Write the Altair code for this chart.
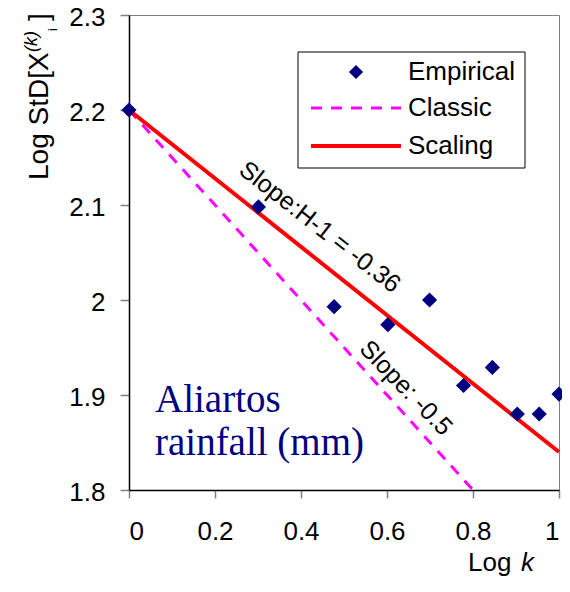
import altair as alt
import pandas as pd

# values
log_k = [0.0, 0.301, 0.477, 0.602, 0.699, 0.778, 0.845, 0.903, 0.954, 1.0]
log_std = [2.200, 2.098, 1.993, 1.974, 2.000, 1.910, 1.929, 1.880, 1.880, 1.901]

classic_x = [0.0, 0.8]
classic_y = [2.2, 1.8]
scaling_x = [0.0, 1.0]
scaling_y = [2.2, 1.84]

x_ticks = [0, 0.2, 0.4, 0.6, 0.8, 1]
y_ticks = [1.8, 1.9, 2.0, 2.1, 2.2, 2.3]

legend_labels = ["Empirical", "Classic", "Scaling"]
slope_labels = ["Slope:H-1 = -0.36", "Slope: -0.5"]
station_lines = ["Aliartos", "rainfall (mm)"]

NAVY = "#000080"
MAGENTA = "#FF00FF"
RED = "#FF0000"
SANS = "Liberation Sans"

points = pd.DataFrame({"log_k": log_k, "log_std": log_std})
classic = pd.DataFrame({"log_k": classic_x, "log_std": classic_y})
scaling = pd.DataFrame({"log_k": scaling_x, "log_std": scaling_y})
one = pd.DataFrame({"a": [0]})

x_enc = alt.X(
    "log_k:Q",
    scale=alt.Scale(domain=[0, 1], nice=False),
    axis=alt.Axis(values=x_ticks, format="~g", title=None, grid=False,
                  tickSize=8, labelPadding=20),
)
y_enc = alt.Y(
    "log_std:Q",
    scale=alt.Scale(domain=[1.8, 2.3], nice=False, zero=False),
    axis=alt.Axis(values=y_ticks, format="~g", title=None, grid=False,
                  tickSize=9, labelPadding=15, labelOffset=2),
)

classic_line = alt.Chart(classic).mark_line(
    color=MAGENTA, strokeWidth=3, strokeDash=[11, 9]
).encode(x_enc, y_enc)

scaling_line = alt.Chart(scaling).mark_line(
    color=RED, strokeWidth=4
).encode(x="log_k:Q", y="log_std:Q")

empirical = alt.Chart(points).mark_point(
    shape="diamond", filled=True, color=NAVY, size=230, opacity=1
).encode(x="log_k:Q", y="log_std:Q")


def label(text, x, y, size=26, angle=0, align="left", baseline="alphabetic",
          font=SANS, color="black", style="normal"):
    return alt.Chart(one).mark_text(
        text=text, fontSize=size, angle=angle, align=align, baseline=baseline,
        font=font, color=color, fontStyle=style,
    ).encode(x=alt.value(x), y=alt.value(y))


# slope annotations along the lines
slope1 = label(slope_labels[0], 191, 212, size=25, angle=38,
               align="center", baseline="middle")
slope2 = label(slope_labels[1], 277, 373, size=25, angle=46,
               align="center", baseline="middle")

# station name
station1 = label(station_lines[0], 26, 397, size=39,
                 font="Liberation Serif", color=NAVY)
station2 = label(station_lines[1], 26, 440, size=39,
                 font="Liberation Serif", color=NAVY)

# hand-made legend box
legend_box = alt.Chart(one).mark_rect(
    fill="white", stroke="black", strokeWidth=1
).encode(x=alt.value(169), x2=alt.value(396), y=alt.value(37), y2=alt.value(153))
legend_point = alt.Chart(one).mark_point(
    shape="diamond", filled=True, color=NAVY, size=200, opacity=1
).encode(x=alt.value(227), y=alt.value(57))
legend_dash = alt.Chart(one).mark_rule(
    color=MAGENTA, strokeWidth=3, strokeDash=[11, 9]
).encode(x=alt.value(182), x2=alt.value(272), y=alt.value(93))
legend_solid = alt.Chart(one).mark_rule(
    color=RED, strokeWidth=4
).encode(x=alt.value(182), x2=alt.value(272), y=alt.value(131))
legend_text = [
    label(t, 279, yy, baseline="middle")
    for t, yy in zip(legend_labels, [57, 93, 131])
]

# axis titles
x_title = label("Log", 339, 556) + label("k", 392, 556, style="italic")
y_title = (
    label("Log StD[X", -81, 165, size=28, angle=270)
    + label("(k)", -92, 37, size=18, angle=270, style="italic")
    + label("i", -72, 16, size=13, angle=270)
    + label("]", -81, 6, size=28, angle=270)
)

chart = alt.layer(
    classic_line, scaling_line, empirical,
    slope1, slope2, station1, station2,
    legend_box, legend_point, legend_dash, legend_solid, *legend_text,
    x_title, y_title,
).properties(
    width=430,
    height=475,
    autosize=alt.AutoSizeParams(type="none"),
    padding={"left": 121, "top": 7, "right": 3, "bottom": 88},
    background="white",
).configure_view(
    stroke="#808080", strokeWidth=1
).configure_axis(
    domainColor="black", domainWidth=1.5,
    tickColor="#808080", tickWidth=1.5,
    labelFont=SANS, labelFontSize=26, labelColor="black",
)

chart.save("out.html", embed_options={"renderer": "svg", "actions": False})
